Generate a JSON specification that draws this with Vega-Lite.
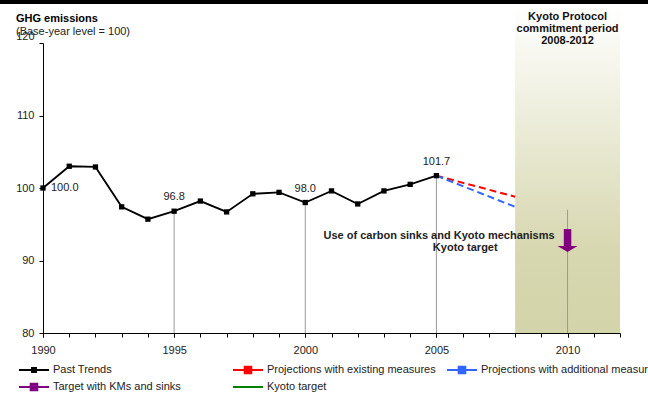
{
  "$schema": "https://vega.github.io/schema/vega-lite/v6.json",
  "width": 577,
  "height": 290,
  "autosize": {"type": "none"},
  "padding": {"left": 43, "top": 43, "right": 28, "bottom": 62},
  "background": "white",
  "config": {
    "view": {"stroke": null},
    "font": "Liberation Sans",
    "axis": {"labelFont": "Liberation Sans", "labelFontSize": 11, "labelColor": "#222", "domainColor": "#000", "tickColor": "#000", "grid": false, "title": null, "tickSize": 4}
  },
  "resolve": {"axis": {"x": "independent"}},
  "title": {
    "text": "GHG emissions",
    "subtitle": "(Base-year level = 100)",
    "anchor": "start",
    "frame": "group",
    "dx": -27,
    "offset": -37.5,
    "font": "Liberation Sans",
    "fontSize": 11,
    "fontWeight": "bold",
    "color": "#000",
    "subtitleFont": "Liberation Sans",
    "subtitleFontSize": 11,
    "subtitleColor": "#222",
    "subtitlePadding": 1.5
  },
  "datasets": {
    "past": [
      {"year": 1990, "value": 100.0, "series": "Past Trends"},
      {"year": 1991, "value": 103.0, "series": "Past Trends"},
      {"year": 1992, "value": 102.9, "series": "Past Trends"},
      {"year": 1993, "value": 97.4, "series": "Past Trends"},
      {"year": 1994, "value": 95.7, "series": "Past Trends"},
      {"year": 1995, "value": 96.8, "series": "Past Trends"},
      {"year": 1996, "value": 98.2, "series": "Past Trends"},
      {"year": 1997, "value": 96.7, "series": "Past Trends"},
      {"year": 1998, "value": 99.2, "series": "Past Trends"},
      {"year": 1999, "value": 99.4, "series": "Past Trends"},
      {"year": 2000, "value": 98.0, "series": "Past Trends"},
      {"year": 2001, "value": 99.6, "series": "Past Trends"},
      {"year": 2002, "value": 97.8, "series": "Past Trends"},
      {"year": 2003, "value": 99.6, "series": "Past Trends"},
      {"year": 2004, "value": 100.5, "series": "Past Trends"},
      {"year": 2005, "value": 101.7, "series": "Past Trends"}
    ],
    "proj": [
      {"year": 2005, "value": 101.7, "series": "Projections with existing measures"},
      {"year": 2008, "value": 98.8, "series": "Projections with existing measures"},
      {"year": 2005, "value": 101.7, "series": "Projections with additional measures"},
      {"year": 2008, "value": 97.4, "series": "Projections with additional measures"}
    ],
    "drops": [
      {"year": 1995, "value": 96.8, "base": 80},
      {"year": 2000, "value": 98.0, "base": 80},
      {"year": 2005, "value": 101.7, "base": 80},
      {"year": 2010, "value": 97.0, "base": 80}
    ],
    "labels": [
      {"year": 1990, "value": 100.0, "label": "100.0"},
      {"year": 1995, "value": 96.8, "label": "96.8"},
      {"year": 2000, "value": 98.0, "label": "98.0"},
      {"year": 2005, "value": 101.7, "label": "101.7"}
    ],
    "period": [{"start": 2008, "end": 2012, "low": 80, "high": 125}],
    "topline": [{"x1": 1988.3, "x2": 2013.2, "y": 125.7}],
    "arrow": [{"year": 2010, "top": 94.34, "bottom": 92.0, "head": 91.59}],
    "notes": [
      {"year": 2005.1, "value": 93.4, "text": "Use of carbon sinks and Kyoto mechanisms"},
      {"year": 2006.1, "value": 91.7, "text": "Kyoto target"}
    ],
    "kyoto": [{"year": 2010, "value": 124.35, "text": "Kyoto Protocol\ncommitment period\n2008-2012"}]
  },
  "layer": [
    {
      "data": {"name": "period"},
      "mark": {"type": "rect", "color": {"gradient": "linear", "x1": 0, "y1": 0, "x2": 0, "y2": 1, "stops": [{"offset": 0, "color": "#ffffff"}, {"offset": 0.75, "color": "#d7d7b0"}, {"offset": 1, "color": "#d4d4aa"}]}},
      "encoding": {
        "x": {"field": "start", "type": "quantitative", "scale": {"domain": [1990, 2012], "nice": false, "zero": false},
              "axis": {"orient": "bottom", "values": [1990, 1995, 2000, 2005, 2010], "format": "d", "labelPadding": 7, "labelFlush": false}},
        "x2": {"field": "end"},
        "y": {"field": "low", "type": "quantitative", "scale": {"domain": [80, 120], "nice": false, "zero": false},
              "axis": {"values": [80, 90, 100, 110, 120], "labelPadding": 5,
                       "labelBaseline": {"condition": {"test": "datum.value == 120", "value": "bottom"}, "value": "middle"},
                       "labelOffset": {"condition": {"test": "datum.value == 120", "value": -2}, "value": 0}}},
        "y2": {"field": "high"}
      }
    },
    {
      "data": {"name": "topline"},
      "mark": {"type": "rule", "color": "#000", "strokeWidth": 4.5},
      "encoding": {
        "x": {"field": "x1", "type": "quantitative", "axis": {"orient": "bottom", "values": [1990,1991,1992,1993,1994,1995,1996,1997,1998,1999,2000,2001,2002,2003,2004,2005,2006,2007,2008,2009,2010,2011,2012], "labels": false, "domain": false}},
        "x2": {"field": "x2"},
        "y": {"field": "y", "type": "quantitative"}
      }
    },
    {
      "data": {"name": "drops"},
      "mark": {"type": "rule", "color": "#999999", "strokeWidth": 1},
      "encoding": {
        "x": {"field": "year", "type": "quantitative", "axis": null},
        "y": {"field": "value", "type": "quantitative"},
        "y2": {"field": "base"}
      }
    },
    {
      "data": {"name": "proj"},
      "mark": {"type": "line", "strokeWidth": 2, "strokeDash": [7, 4]},
      "encoding": {
        "x": {"field": "year", "type": "quantitative", "axis": null},
        "y": {"field": "value", "type": "quantitative"},
        "detail": {"field": "series"},
        "color": {"field": "series", "type": "nominal"}
      }
    },
    {
      "data": {"name": "past"},
      "mark": {"type": "line", "strokeWidth": 1.8, "point": {"shape": "square", "size": 28, "filled": true, "color": "#000"}},
      "encoding": {
        "x": {"field": "year", "type": "quantitative", "axis": null},
        "y": {"field": "value", "type": "quantitative"},
        "color": {
          "field": "series", "type": "nominal",
          "scale": {
            "domain": ["Past Trends", "Projections with existing measures", "Projections with additional measures", "Target with KMs and sinks", "Kyoto target"],
            "range": ["#000000", "#ff0000", "#3366ff", "#800080", "#008000"]
          },
          "legend": {
            "orient": "none", "legendX": -25, "legendY": 320.5, "columns": 3, "direction": "horizontal", "title": null,
            "padding": 0, "gridAlign": "all", "columnPadding": -2, "rowPadding": 4, "clipHeight": 13,
            "symbolType": "M-1,0H1M-0.2,-0.2H0.2V0.2H-0.2Z", "symbolSize": 900, "symbolStrokeWidth": 2,
            "labelFont": "Liberation Sans", "labelFontSize": 11, "labelColor": "#222", "labelOffset": 3, "labelLimit": 0,
            "encode": {"symbols": {"update": {
              "fill": {"scale": "color", "field": "value"},
              "fillOpacity": {"value": 1},
              "strokeDash": {"value": []},
              "shape": {"signal": "datum.value == 'Kyoto target' ? 'M-1,0H1' : (datum.value == 'Past Trends' ? 'M-1,0H1M-0.13,-0.13H0.13V0.13H-0.13Z' : 'M-1,0H1M-0.22,-0.22H0.22V0.22H-0.22Z')"}
            }}}
          }
        }
      }
    },
    {
      "data": {"name": "arrow"},
      "mark": {"type": "rule", "color": "#800080", "strokeWidth": 7.5, "strokeCap": "butt"},
      "encoding": {
        "x": {"field": "year", "type": "quantitative", "axis": null},
        "y": {"field": "top", "type": "quantitative"},
        "y2": {"field": "bottom"}
      }
    },
    {
      "data": {"name": "arrow"},
      "mark": {"type": "point", "shape": "M-1,-0.3L1,-0.3L0,0.3Z", "size": 400, "filled": true, "color": "#800080", "opacity": 1},
      "encoding": {
        "x": {"field": "year", "type": "quantitative", "axis": null},
        "y": {"field": "head", "type": "quantitative"}
      }
    },
    {
      "data": {"name": "labels"},
      "transform": [{"filter": "datum.year == 1990"}],
      "mark": {"type": "text", "align": "left", "baseline": "middle", "dx": 8, "fontSize": 11, "color": "#222", "font": "Liberation Sans"},
      "encoding": {
        "x": {"field": "year", "type": "quantitative", "axis": null},
        "y": {"field": "value", "type": "quantitative"},
        "text": {"field": "label"}
      }
    },
    {
      "data": {"name": "labels"},
      "transform": [{"filter": "datum.year != 1990"}],
      "mark": {"type": "text", "align": "center", "baseline": "middle", "dy": -14, "fontSize": 11, "color": "#222", "font": "Liberation Sans"},
      "encoding": {
        "x": {"field": "year", "type": "quantitative", "axis": null},
        "y": {"field": "value", "type": "quantitative"},
        "text": {"field": "label"}
      }
    },
    {
      "data": {"name": "notes"},
      "mark": {"type": "text", "align": "center", "baseline": "middle", "fontSize": 11, "fontWeight": "bold", "color": "#222", "font": "Liberation Sans"},
      "encoding": {
        "x": {"field": "year", "type": "quantitative", "axis": null},
        "y": {"field": "value", "type": "quantitative"},
        "text": {"field": "text"}
      }
    },
    {
      "data": {"name": "kyoto"},
      "mark": {"type": "text", "align": "center", "baseline": "top", "lineBreak": "\n", "lineHeight": 12, "fontSize": 11, "fontWeight": "bold", "color": "#111", "font": "Liberation Sans"},
      "encoding": {
        "x": {"field": "year", "type": "quantitative", "axis": null},
        "y": {"field": "value", "type": "quantitative"},
        "text": {"field": "text"}
      }
    }
  ]
}
